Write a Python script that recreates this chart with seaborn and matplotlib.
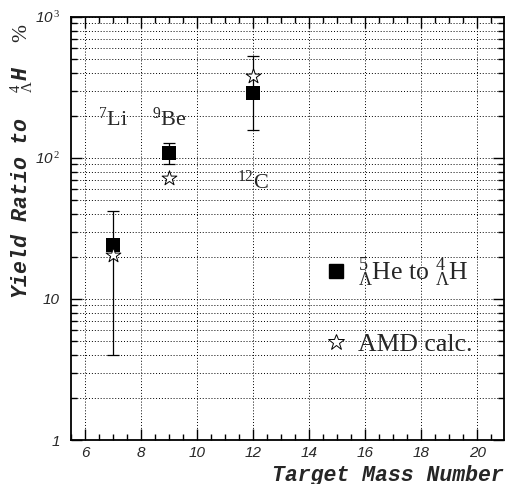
import numpy as np
import pandas as pd
import seaborn as sns
import matplotlib
matplotlib.use("Agg")
import matplotlib.pyplot as plt
from matplotlib.ticker import FixedLocator, LogLocator, FuncFormatter, NullFormatter
from matplotlib.lines import Line2D

# Measured yield ratios of 5_Lambda He to 4_Lambda H (%) per target
targets = ["Li", "Be", "C"]
mass_number = [7, 9, 12]
ratio = [24.2, 108.0, 290.0]
err_low = [4.0, 91.0, 158.0]
err_high = [42.0, 128.0, 529.0]

# AMD model calculation
amd_ratio = [20.5, 72.0, 382.0]

# Target labels
target_text = [r"$^{7}$Li", r"$^{9}$Be", r"$^{12}$C"]
target_text_x = [7.0, 9.0, 12.0]
target_text_y = [155.0, 155.0, 56.0]

sns.set_theme(style="ticks")
plt.rcParams["mathtext.fontset"] = "custom"
plt.rcParams["mathtext.rm"] = "Liberation Serif"
plt.rcParams["mathtext.it"] = "Liberation Serif:italic"
plt.rcParams["mathtext.bf"] = "Liberation Serif:bold"
plt.rcParams["font.family"] = ["Liberation Sans", "DejaVu Sans"]

fig = plt.figure(figsize=(5.05, 4.84), dpi=100)
ax = fig.add_axes([71 / 505, 44 / 484, 433 / 505, 423 / 484])

df = pd.DataFrame({"A": mass_number, "ratio": ratio, "amd": amd_ratio})

yerr = np.array([np.array(ratio) - np.array(err_low), np.array(err_high) - np.array(ratio)])
ax.errorbar(mass_number, ratio, yerr=yerr, fmt="none", ecolor="black",
            elinewidth=0.9, capsize=4.5, capthick=0.9, zorder=3)

sns.scatterplot(data=df, x="A", y="ratio", marker="s", s=92, color="black",
                edgecolor="black", linewidth=0, ax=ax, zorder=4)
sns.scatterplot(data=df, x="A", y="amd", marker="*", s=125, facecolor="white",
                edgecolor="black", linewidth=0.7, ax=ax, zorder=5)

ax.set_yscale("log")
ax.set_xlim(5.5, 20.95)
ax.set_ylim(1, 1000)

# x ticks: majors every 2, minors every 0.5
ax.xaxis.set_major_locator(FixedLocator(np.arange(6, 21, 2)))
ax.xaxis.set_minor_locator(FixedLocator(np.arange(5.5, 21.0, 0.5)))
ax.yaxis.set_major_locator(FixedLocator([1, 10, 100, 1000]))
ax.yaxis.set_minor_locator(LogLocator(base=10, subs=np.arange(2, 10)))
ax.yaxis.set_minor_formatter(NullFormatter())

ylabels = {1: "1", 10: "10", 100: r"10$^{\,2}$", 1000: r"10$^{\,3}$"}
ax.yaxis.set_major_formatter(FuncFormatter(lambda v, p: ylabels.get(int(round(v)), "")))

for lab in ax.get_xticklabels() + ax.get_yticklabels():
    lab.set_fontfamily("Liberation Sans")
    lab.set_fontstyle("italic")
    lab.set_fontsize(11)

ax.tick_params(which="both", direction="in", top=True, right=True, color="black")
ax.tick_params(which="major", length=8, width=1.0)
ax.tick_params(which="minor", length=4, width=1.0)
ax.tick_params(axis="x", which="major", pad=4)
ax.tick_params(axis="y", which="major", pad=8)

for s in ax.spines.values():
    s.set_linewidth(1.3)
    s.set_color("black")

# dotted grid
ax.grid(axis="x", which="major", linestyle=(0, (1, 2)), color="black", linewidth=0.7)
ax.grid(axis="y", which="both", linestyle=(0, (1, 2)), color="black", linewidth=0.7)
ax.set_axisbelow(True)

ax.set_xlabel("Target Mass Number", family="Liberation Mono", weight="bold",
              style="italic", size=15.5, loc="right")
ax.xaxis.set_label_coords(1.0, -0.058)
ax.set_ylabel(r"Yield Ratio to  $^{4}_{\Lambda}$H  $\%$", family="Liberation Mono",
              weight="bold", style="italic", size=15.5, loc="top")
ax.yaxis.set_label_coords(-0.082, 0.985)

for t, x, y in zip(target_text, target_text_x, target_text_y):
    ax.text(x, y, t, ha="center", va="bottom", family="Liberation Serif", size=16)

handles = [
    Line2D([], [], marker="s", color="black", linestyle="none", markersize=9.6),
    Line2D([], [], marker="*", markerfacecolor="white", markeredgecolor="black",
           linestyle="none", markersize=12, markeredgewidth=0.7),
]
labels = [r"$^{5}_{\Lambda}$He to $^{4}_{\Lambda}$H", "AMD calc."]
leg = ax.legend(handles, labels, loc="upper left", bbox_to_anchor=(0.53, 0.49),
                frameon=False, labelspacing=1.72, handletextpad=0.35, handlelength=1.0,
                prop=dict(family="Liberation Serif", size=18.5))

fig.savefig("out.png", dpi=100)
